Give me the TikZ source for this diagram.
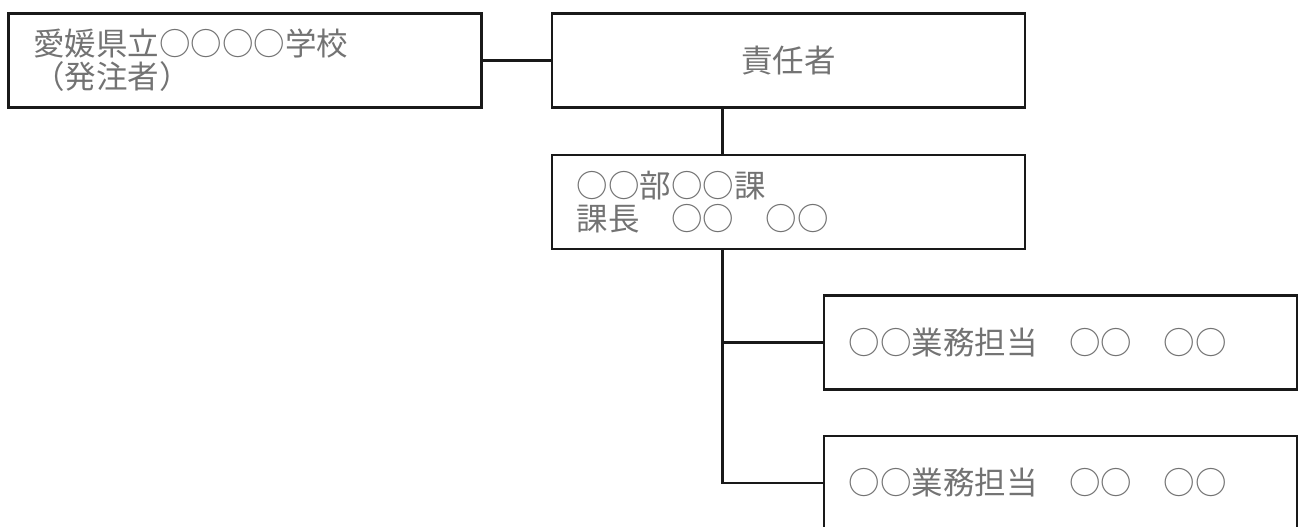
\documentclass[tikz,border=0pt]{standalone}
\usepackage{fontspec}
\setmainfont{Noto Sans CJK JP}
\usetikzlibrary{positioning}

\begin{document}
\begin{tikzpicture}[node distance= 22pt]
      \useasboundingbox (0,0) rectangle (649pt,-263pt);
      \begin{scope}[every node/.style={draw= black!90,line width= 1.25pt,
          minimum width= 236.5pt,minimum height= 47pt,inner xsep= 12.5pt,
          text width= 211.5pt,align= left,text= black!55,
          font= \fontsize{15.75pt}{16.5pt}\selectfont}]
        \node (A) [anchor= north west] at (3.5pt,-6pt) {愛媛県立○○○○学校\\（発注者）};
        \node (B) [right= 34pt of A,align= center] {責任者};
        \node (C) [below= 22.5pt of B] {○○部○○課\\課長　○○　○○};
        \node (D) [below= 22pt of C,xshift= 136pt] {○○業務担当　○○　○○};
        \node (E) [below= 22pt of D] {○○業務担当　○○　○○};
      \end{scope}
      \begin{scope}[every path/.style={draw= black!90,line width= 1.25pt}]
        \coordinate (top) at ([xshift= -33pt]B.south);
        \coordinate (trunk) at ([xshift= -33pt]C.south);
        \path (A) -- (B);
        \path (top) -- (top |- C.north);
        \path (trunk) |- (D.west);
        \path (trunk) |- (E.west);
      \end{scope}
    \end{tikzpicture}
\end{document}
